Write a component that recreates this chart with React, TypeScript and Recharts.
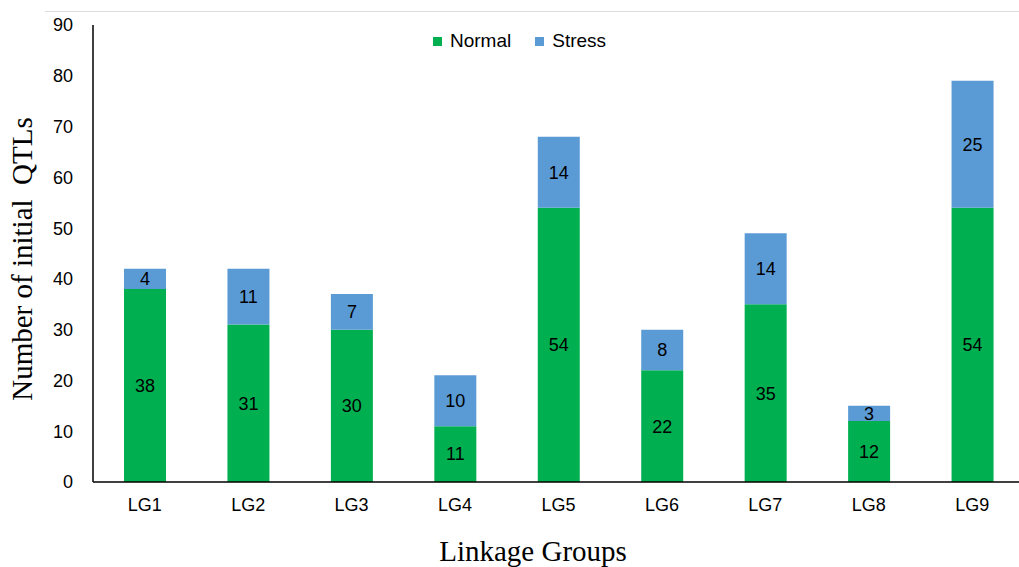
import { BarChart, Bar, XAxis, YAxis, LabelList } from 'recharts'

const groups = ['LG1', 'LG2', 'LG3', 'LG4', 'LG5', 'LG6', 'LG7', 'LG8', 'LG9']
const normal = [38, 31, 30, 11, 54, 22, 35, 12, 54]
const stress = [4, 11, 7, 10, 14, 8, 14, 3, 25]
const yTicks = [0, 10, 20, 30, 40, 50, 60, 70, 80, 90]

const GREEN = '#00B050'
const BLUE = '#5B9BD5'
const SANS = '"Liberation Sans", Arial, sans-serif'
const SERIF = '"Liberation Serif", "Times New Roman", serif'

const data = groups.map((g, i) => ({ group: g, normal: normal[i], stress: stress[i] }))

function LegendBox() {
  const items = [
    { name: 'Normal', color: GREEN },
    { name: 'Stress', color: BLUE },
  ]
  return (
    <div
      style={{
        position: 'absolute', left: 433, top: 29, display: 'flex', gap: 24,
        fontFamily: SANS, fontSize: 19, color: '#000', lineHeight: '24px',
      }}
    >
      {items.map((it) => (
        <div key={it.name} style={{ display: 'flex', alignItems: 'center', gap: 8 }}>
          <span style={{ width: 9, height: 9, background: it.color, display: 'inline-block' }} />
          <span>{it.name}</span>
        </div>
      ))}
    </div>
  )
}

export default function App() {
  return (
    <div style={{ position: 'absolute', left: 0, top: 0, width: 1019, height: 567, overflow: 'hidden', background: '#fff' }}>
      <div style={{ position: 'absolute', left: 45, right: 0, top: 11, height: 0, borderTop: '1.5px solid #ddd' }} />
      <BarChart
        width={1040}
        height={567}
        data={data}
        margin={{ top: 25, right: 16, bottom: 55, left: 0 }}
      >
        <XAxis
          dataKey="group"
          height={30}
          axisLine={{ stroke: '#000', strokeWidth: 1.5 }}
          tickLine={false}
          tickSize={0}
          tickMargin={16}
          tick={{ fill: '#000', fontSize: 18, fontFamily: SANS }}
          label={{
            content: () => (
              <text x={533} y={561} textAnchor="middle" fontFamily={SERIF} fontSize={29} fill="#000">
                Linkage Groups
              </text>
            ),
          }}
        />
        <YAxis
          width={93}
          domain={[0, 90]}
          ticks={yTicks}
          interval={0}
          axisLine={{ stroke: '#000', strokeWidth: 1.5 }}
          tickLine={false}
          tickSize={0}
          tickMargin={20}
          tick={{ fill: '#000', fontSize: 18, fontFamily: SANS }}
          label={{
            content: () => (
              <text
                x={32}
                y={259}
                transform="rotate(-90 32 259)"
                textAnchor="middle"
                fontFamily={SERIF}
                fontSize={29}
                fill="#000"
                style={{ whiteSpace: 'pre' }}
              >
                Number of initial  QTLs
              </text>
            ),
          }}
        />
        <Bar dataKey="normal" name="Normal" stackId="a" fill={GREEN} barSize={42} isAnimationActive={false}>
          <LabelList dataKey="normal" position="center" fill="#000" fontSize={18} fontFamily={SANS} />
        </Bar>
        <Bar dataKey="stress" name="Stress" stackId="a" fill={BLUE} barSize={42} isAnimationActive={false}>
          <LabelList dataKey="stress" position="center" fill="#000" fontSize={18} fontFamily={SANS} />
        </Bar>
      </BarChart>
      <LegendBox />
    </div>
  )
}
